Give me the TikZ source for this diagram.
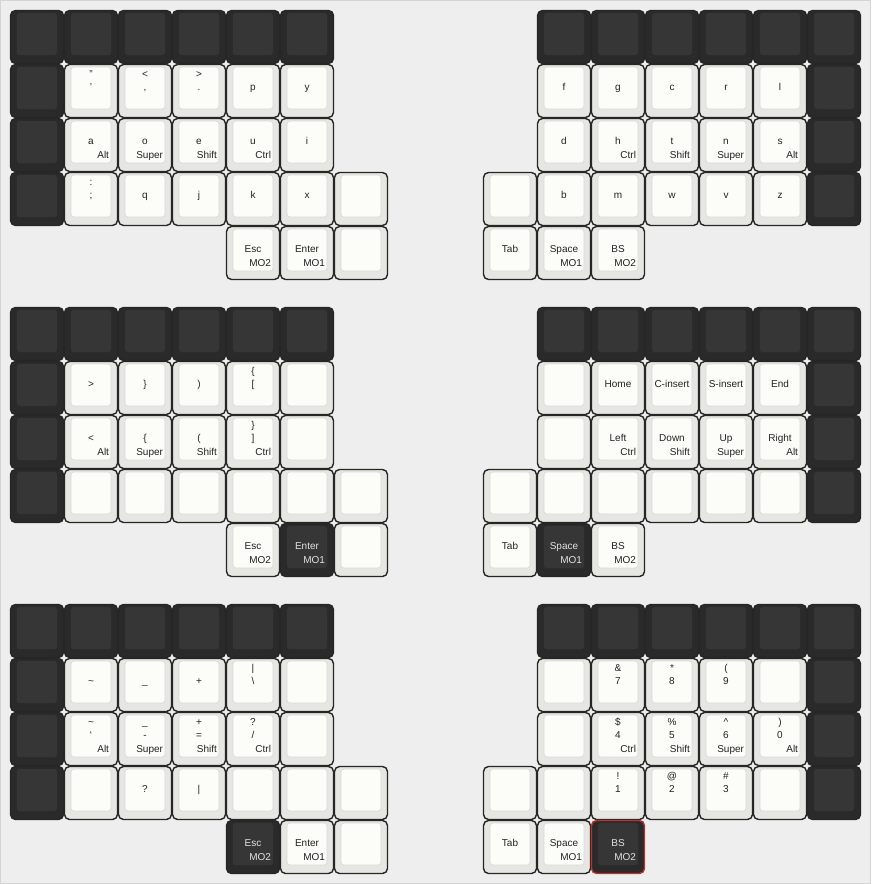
\documentclass[tikz,border=0pt]{standalone}
\usepackage{fontspec}
\setmainfont{Liberation Sans}
\definecolor{bgc}{HTML}{EEEEEE}
\definecolor{bgline}{HTML}{D4D4D4}
\definecolor{lofill}{HTML}{E6E6E2}
\definecolor{lifill}{HTML}{FCFCF8}
\definecolor{liline}{HTML}{D8D8D4}
\definecolor{kline}{HTML}{262626}
\definecolor{dofill}{HTML}{2A2A2A}
\definecolor{difill}{HTML}{363636}
\definecolor{redline}{HTML}{B83232}
\definecolor{ltext}{HTML}{222222}
\definecolor{dtext}{HTML}{E2E2E2}
\tikzset{
  keyout/.style={draw, line width=1.4pt, rounded corners=5pt, minimum size=53pt, inner sep=0pt, outer sep=0pt},
  keyin/.style={rounded corners=3pt, minimum width=40pt, minimum height=42pt, inner sep=0pt, outer sep=0pt},
  lbl/.style={inner sep=0pt, outer sep=0pt, font=\fontsize{10}{12}\selectfont},
  lout/.style={fill=lofill, draw=kline},
  lin/.style={fill=lifill, draw=liline, line width=0.6pt},
  ltxt/.style={text=ltext},
  dout/.style={fill=dofill, draw=kline},
  din/.style={fill=difill, draw=difill},
  dtxt/.style={text=dtext},
  rout/.style={fill=dofill, draw=redline},
  rin/.style={fill=difill, draw=difill},
  rtxt/.style={text=dtext},
}
\newcommand\kc[7]{%
  \node[keyout,#4out] (#1) at ({#2+27},{#3+27}) {};
  \node[keyin,#4in] (#1in) at ({#2+27},{#3+24}) {};
  \node[lbl,#4txt,anchor=base] (#1t) at ({#2+27},{#3+13}) {#5};
  \node[lbl,#4txt,anchor=base] (#1m) at ({#2+27},{#3+26.5}) {#6};
  \node[lbl,#4txt,anchor=base east] (#1b) at ({#2+45},{#3+40.5}) {#7};
}
\begin{document}
\begin{tikzpicture}[x=1pt,y=-1pt]
\useasboundingbox (0,0) rectangle (871,884);
\fill[bgc] (0,0) rectangle (871,884);
\draw[bgline, line width=1pt] (0.5,0.5) rectangle (870.5,883.5);
% ---------- top rows (all dark), outer columns
\foreach \L/\y in {1/10,2/307,3/604}{
  \foreach \c/\x in {0/10,1/64,2/118,3/172,4/226,5/280}{\kc{L\L r0l\c}{\x}{\y}{d}{}{}{}}
  \foreach \c/\x in {0/537,1/591,2/645,3/699,4/753,5/807}{\kc{L\L r0r\c}{\x}{\y}{d}{}{}{}}
}
\foreach \L/\y in {1/64,2/361,3/658}{
  \kc{L\L r1l0}{10}{\y}{d}{}{}{}
  \kc{L\L r1r5}{807}{\y}{d}{}{}{}
}
\foreach \L/\y in {1/118,2/415,3/712}{
  \kc{L\L r2l0}{10}{\y}{d}{}{}{}
  \kc{L\L r2r5}{807}{\y}{d}{}{}{}
}
\foreach \L/\y in {1/172,2/469,3/766}{
  \kc{L\L r3l0}{10}{\y}{d}{}{}{}
  \kc{L\L r3r5}{807}{\y}{d}{}{}{}
}
% ================= LAYER 1 =================
\kc{A1l1}{64}{64}{l}{\char"22}{\char"27}{}
\kc{A1l2}{118}{64}{l}{<}{,}{}
\kc{A1l3}{172}{64}{l}{>}{.}{}
\kc{A1l4}{226}{64}{l}{}{p}{}
\kc{A1l5}{280}{64}{l}{}{y}{}
\kc{A1r0}{537}{64}{l}{}{f}{}
\kc{A1r1}{591}{64}{l}{}{g}{}
\kc{A1r2}{645}{64}{l}{}{c}{}
\kc{A1r3}{699}{64}{l}{}{r}{}
\kc{A1r4}{753}{64}{l}{}{l}{}
\kc{A2l1}{64}{118}{l}{}{a}{Alt}
\kc{A2l2}{118}{118}{l}{}{o}{Super}
\kc{A2l3}{172}{118}{l}{}{e}{Shift}
\kc{A2l4}{226}{118}{l}{}{u}{Ctrl}
\kc{A2l5}{280}{118}{l}{}{i}{}
\kc{A2r0}{537}{118}{l}{}{d}{}
\kc{A2r1}{591}{118}{l}{}{h}{Ctrl}
\kc{A2r2}{645}{118}{l}{}{t}{Shift}
\kc{A2r3}{699}{118}{l}{}{n}{Super}
\kc{A2r4}{753}{118}{l}{}{s}{Alt}
\kc{A3l1}{64}{172}{l}{:}{;}{}
\kc{A3l2}{118}{172}{l}{}{q}{}
\kc{A3l3}{172}{172}{l}{}{j}{}
\kc{A3l4}{226}{172}{l}{}{k}{}
\kc{A3l5}{280}{172}{l}{}{x}{}
\kc{A3l6}{334}{172}{l}{}{}{}
\kc{A3rx}{483}{172}{l}{}{}{}
\kc{A3r0}{537}{172}{l}{}{b}{}
\kc{A3r1}{591}{172}{l}{}{m}{}
\kc{A3r2}{645}{172}{l}{}{w}{}
\kc{A3r3}{699}{172}{l}{}{v}{}
\kc{A3r4}{753}{172}{l}{}{z}{}
\kc{A4l0}{226}{226}{l}{}{Esc}{MO2}
\kc{A4l1}{280}{226}{l}{}{Enter}{MO1}
\kc{A4l2}{334}{226}{l}{}{}{}
\kc{A4r0}{483}{226}{l}{}{Tab}{}
\kc{A4r1}{537}{226}{l}{}{Space}{MO1}
\kc{A4r2}{591}{226}{l}{}{BS}{MO2}
% ================= LAYER 2 =================
\kc{B1l1}{64}{361}{l}{}{>}{}
\kc{B1l2}{118}{361}{l}{}{\}}{}
\kc{B1l3}{172}{361}{l}{}{)}{}
\kc{B1l4}{226}{361}{l}{\{}{[}{}
\kc{B1l5}{280}{361}{l}{}{}{}
\kc{B1r0}{537}{361}{l}{}{}{}
\kc{B1r1}{591}{361}{l}{}{Home}{}
\kc{B1r2}{645}{361}{l}{}{C-insert}{}
\kc{B1r3}{699}{361}{l}{}{S-insert}{}
\kc{B1r4}{753}{361}{l}{}{End}{}
\kc{B2l1}{64}{415}{l}{}{<}{Alt}
\kc{B2l2}{118}{415}{l}{}{\{}{Super}
\kc{B2l3}{172}{415}{l}{}{(}{Shift}
\kc{B2l4}{226}{415}{l}{\}}{]}{Ctrl}
\kc{B2l5}{280}{415}{l}{}{}{}
\kc{B2r0}{537}{415}{l}{}{}{}
\kc{B2r1}{591}{415}{l}{}{Left}{Ctrl}
\kc{B2r2}{645}{415}{l}{}{Down}{Shift}
\kc{B2r3}{699}{415}{l}{}{Up}{Super}
\kc{B2r4}{753}{415}{l}{}{Right}{Alt}
\kc{B3l1}{64}{469}{l}{}{}{}
\kc{B3l2}{118}{469}{l}{}{}{}
\kc{B3l3}{172}{469}{l}{}{}{}
\kc{B3l4}{226}{469}{l}{}{}{}
\kc{B3l5}{280}{469}{l}{}{}{}
\kc{B3l6}{334}{469}{l}{}{}{}
\kc{B3rx}{483}{469}{l}{}{}{}
\kc{B3r0}{537}{469}{l}{}{}{}
\kc{B3r1}{591}{469}{l}{}{}{}
\kc{B3r2}{645}{469}{l}{}{}{}
\kc{B3r3}{699}{469}{l}{}{}{}
\kc{B3r4}{753}{469}{l}{}{}{}
\kc{B4l0}{226}{523}{l}{}{Esc}{MO2}
\kc{B4l1}{280}{523}{d}{}{Enter}{MO1}
\kc{B4l2}{334}{523}{l}{}{}{}
\kc{B4r0}{483}{523}{l}{}{Tab}{}
\kc{B4r1}{537}{523}{d}{}{Space}{MO1}
\kc{B4r2}{591}{523}{l}{}{BS}{MO2}
% ================= LAYER 3 =================
\kc{C1l1}{64}{658}{l}{}{\char"7E}{}
\kc{C1l2}{118}{658}{l}{}{\char"5F}{}
\kc{C1l3}{172}{658}{l}{}{+}{}
\kc{C1l4}{226}{658}{l}{|}{\char"5C}{}
\kc{C1l5}{280}{658}{l}{}{}{}
\kc{C1r0}{537}{658}{l}{}{}{}
\kc{C1r1}{591}{658}{l}{\&}{7}{}
\kc{C1r2}{645}{658}{l}{*}{8}{}
\kc{C1r3}{699}{658}{l}{(}{9}{}
\kc{C1r4}{753}{658}{l}{}{}{}
\kc{C2l1}{64}{712}{l}{\char"7E}{\char"60}{Alt}
\kc{C2l2}{118}{712}{l}{\char"5F}{-}{Super}
\kc{C2l3}{172}{712}{l}{+}{=}{Shift}
\kc{C2l4}{226}{712}{l}{?}{/}{Ctrl}
\kc{C2l5}{280}{712}{l}{}{}{}
\kc{C2r0}{537}{712}{l}{}{}{}
\kc{C2r1}{591}{712}{l}{\$}{4}{Ctrl}
\kc{C2r2}{645}{712}{l}{\%}{5}{Shift}
\kc{C2r3}{699}{712}{l}{\char"5E}{6}{Super}
\kc{C2r4}{753}{712}{l}{)}{0}{Alt}
\kc{C3l1}{64}{766}{l}{}{}{}
\kc{C3l2}{118}{766}{l}{}{?}{}
\kc{C3l3}{172}{766}{l}{}{|}{}
\kc{C3l4}{226}{766}{l}{}{}{}
\kc{C3l5}{280}{766}{l}{}{}{}
\kc{C3l6}{334}{766}{l}{}{}{}
\kc{C3rx}{483}{766}{l}{}{}{}
\kc{C3r0}{537}{766}{l}{}{}{}
\kc{C3r1}{591}{766}{l}{!}{1}{}
\kc{C3r2}{645}{766}{l}{@}{2}{}
\kc{C3r3}{699}{766}{l}{\#}{3}{}
\kc{C3r4}{753}{766}{l}{}{}{}
\kc{C4l0}{226}{820}{d}{}{Esc}{MO2}
\kc{C4l1}{280}{820}{l}{}{Enter}{MO1}
\kc{C4l2}{334}{820}{l}{}{}{}
\kc{C4r0}{483}{820}{l}{}{Tab}{}
\kc{C4r1}{537}{820}{l}{}{Space}{MO1}
\kc{C4r2}{591}{820}{r}{}{BS}{MO2}
\end{tikzpicture}
\end{document}
